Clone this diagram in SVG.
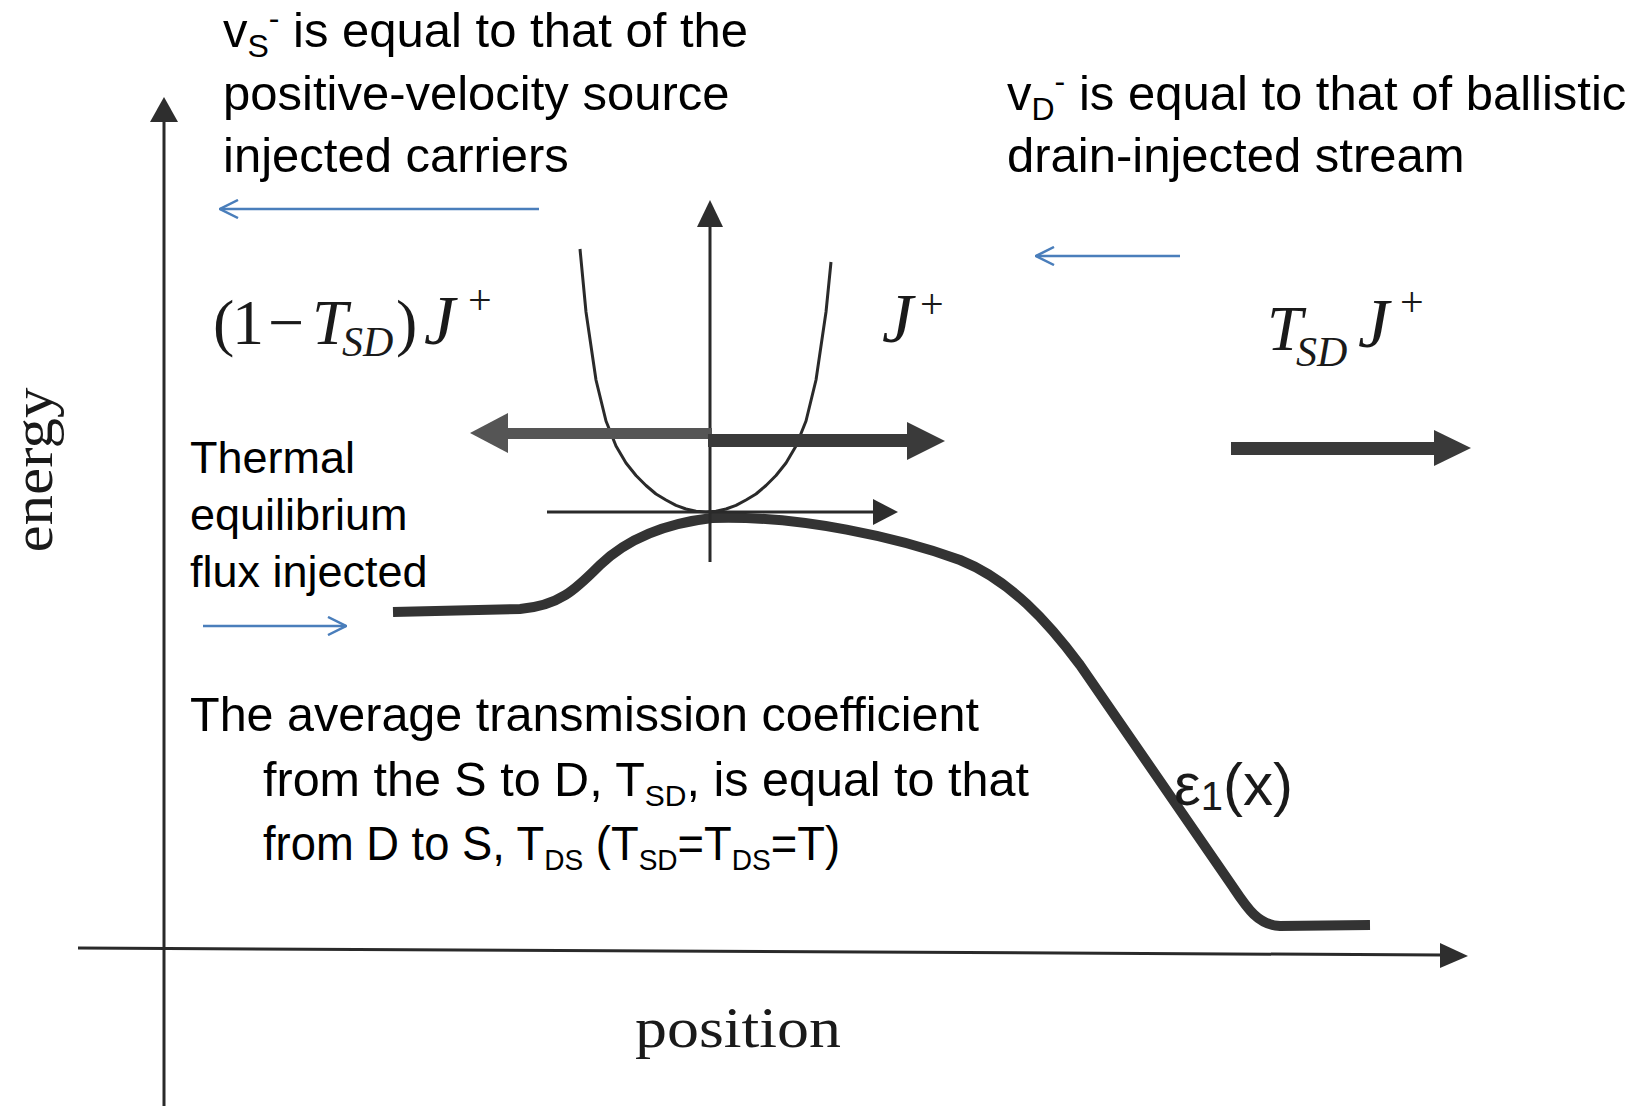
<svg xmlns="http://www.w3.org/2000/svg" width="1641" height="1106" viewBox="0 0 1641 1106">
<style>
.lbl{font-family:"Liberation Sans",Arial,sans-serif;font-size:49px;fill:#000}
.par{font-size:48.5px}
.sm{font-size:45px}
.eps{font-size:60px;fill:#1a1a1a}
.math{font-family:"Liberation Serif","Times New Roman",serif;font-size:64px;fill:#1a1a1a}
.sub{font-size:42px}
.jj{font-size:70px}
.axlbl{font-size:58px}
.it{font-style:italic}
.ax{stroke:#2a2a2a;fill:none;stroke-width:3}
.blue{stroke:#4a7ebb;stroke-width:2.5;fill:none}
.curve{stroke:#333;stroke-width:10;fill:none;stroke-linejoin:round}
.head{fill:#2e2e2e}
</style>
<defs>
<marker id="blueHead" viewBox="0 0 20 20" refX="19" refY="10" markerWidth="20" markerHeight="20" markerUnits="userSpaceOnUse" orient="auto">
<path d="M1,1 L19,10 L1,19" fill="none" stroke="#4a7ebb" stroke-width="2.5"/>
</marker>
</defs>
<rect width="1641" height="1106" fill="#fff"/>

<g id="axes">
<line class="ax" x1="164" y1="120" x2="164" y2="1106"/>
<polygon class="head" points="164,97 150,122 178,122"/>
<line class="ax" x1="78" y1="948" x2="1442" y2="955" stroke-width="4"/>
<polygon class="head" points="1468,956 1440,943 1440,968"/>
<text id="energy" class="math axlbl" transform="translate(52,470) rotate(-90)" text-anchor="middle" textLength="165" lengthAdjust="spacingAndGlyphs">energy</text>
<text id="position" class="math axlbl" x="635" y="1047" textLength="206" lengthAdjust="spacingAndGlyphs">position</text>
</g>

<g id="energy-curve">
<path class="curve" d="M393 612 L520 609 C560 606 577 588 600 565 C625 541 660 524 712 518 C800 515 900 538 960 560 C1010 580 1048 622 1080 665 L1233 887 C1247 908 1258 925 1280 926 L1370 925"/>
<text class="lbl eps" x="1174" y="805">ε<tspan font-size="40" dy="5">1</tspan><tspan dy="-5">(x)</tspan></text>
</g>

<g id="band-diagram">
<line class="ax" x1="710" y1="225" x2="710" y2="562" stroke-width="4"/>
<polygon class="head" points="710,200 697,227 723,227"/>
<line class="ax" x1="547" y1="512" x2="875" y2="512"/>
<polygon class="head" points="898,512 873,499 873,525"/>
<polyline class="ax" stroke-linejoin="round" points="580,249 586,312 596,380 606,421 616,446 626,463 636,475.5 646,485.5 656,494 666,500 676,505.4 686,509 696,511.3 706,512 716,511.3 726,509 736,505.4 746,500 756,494 766,485.5 776,475.5 786,463 796,446 806,421 816,380 826,312 831,262"/>
</g>

<g id="flux-arrows">
<rect x="505" y="428" width="207" height="11" fill="#555"/>
<polygon points="470,433 508,413 508,453" fill="#555"/>
<rect x="708" y="434" width="201" height="13" fill="#3a3a3a"/>
<polygon points="945,441 907,422 907,460" fill="#3a3a3a"/>
<rect x="1231" y="442" width="205" height="13" fill="#3a3a3a"/>
<polygon points="1471,448 1434,430 1434,466" fill="#3a3a3a"/>
</g>

<g id="label-reflected">
<text class="math" x="213" y="344">(</text>
<text class="math" x="232" y="344">1</text>
<text class="math" x="268" y="344">−</text>
<text class="math it" x="312" y="344">T</text>
<text class="math it sub" x="342" y="356">SD</text>
<text class="math" x="396" y="344">)</text>
<text class="math it jj" x="424" y="344">J</text>
<text class="math sub" x="468" y="314">+</text>
</g>

<g id="label-incident">
<text class="math it jj" x="882" y="342">J</text>
<text class="math sub" x="920" y="318">+</text>
</g>

<g id="label-transmitted">
<text class="math it" x="1267" y="350">T</text>
<text class="math it sub" x="1296" y="366">SD</text>
<text class="math it jj" x="1358" y="347">J</text>
<text class="math sub" x="1400" y="316">+</text>
</g>

<g id="note-source">
<text class="lbl" x="223" y="47">v<tspan font-size="32" dy="10">S</tspan><tspan font-size="32" dy="-28">-</tspan><tspan dy="18"> is equal to that of the</tspan></text>
<text class="lbl" x="223" y="110">positive-velocity source</text>
<text class="lbl" x="223" y="172">injected carriers</text>
</g>

<g id="note-drain">
<text class="lbl" x="1007" y="110">v<tspan font-size="32" dy="10">D</tspan><tspan font-size="32" dy="-28">-</tspan><tspan dy="18"> is equal to that of ballistic</tspan></text>
<text class="lbl" x="1007" y="172">drain-injected stream</text>
</g>

<g id="note-thermal">
<text class="lbl sm" x="190" y="473">Thermal</text>
<text class="lbl sm" x="190" y="530">equilibrium</text>
<text class="lbl sm" x="190" y="587">flux injected</text>
</g>

<g id="note-transmission">
<text class="lbl par" x="190" y="731">The average transmission coefficient</text>
<text class="lbl par" x="263" y="796">from the S to D, T<tspan font-size="30" dy="10">SD</tspan><tspan dy="-10">, is equal to that</tspan></text>
<text class="lbl par" x="263" y="860" textLength="577" lengthAdjust="spacingAndGlyphs">from D to S, T<tspan font-size="30" dy="10">DS</tspan><tspan dy="-10"> (T</tspan><tspan font-size="30" dy="10">SD</tspan><tspan dy="-10">=T</tspan><tspan font-size="30" dy="10">DS</tspan><tspan dy="-10">=T)</tspan></text>
</g>

<g id="connectors">
<line class="blue" x1="539" y1="209" x2="220" y2="209" marker-end="url(#blueHead)"/>
<line class="blue" x1="1180" y1="256" x2="1036" y2="256" marker-end="url(#blueHead)"/>
<line class="blue" x1="203" y1="626" x2="346" y2="626" marker-end="url(#blueHead)"/>
</g>
</svg>
